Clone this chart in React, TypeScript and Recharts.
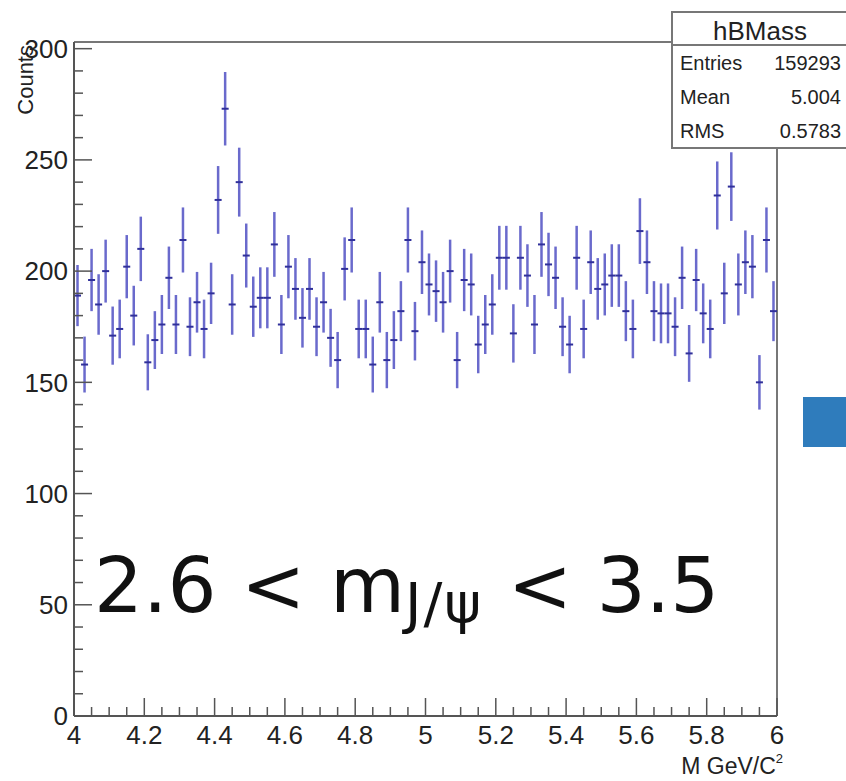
import React from "react";
import { ScatterChart, Scatter, XAxis, YAxis, ErrorBar, ReferenceLine } from "recharts";

// hBMass histogram, 100 bins from 4 to 6 GeV
const binLow = 4;
const binWidth = 0.02;
const counts = [
  189, 158, 196, 185, 200, 171, 174, 202, 180, 210,
  159, 169, 176, 197, 176, 214, 175, 186, 174, 190,
  232, 273, 185, 240, 207, 184, 188, 188, 212, 176,
  202, 192, 179, 192, 175, 186, 170, 160, 201, 214,
  174, 174, 158, 186, 160, 169, 182, 214, 173, 204,
  194, 191, 186, 200, 160, 196, 194, 167, 176, 185,
  206, 206, 172, 206, 198, 176, 212, 203, 197, 175,
  167, 206, 174, 204, 192, 194, 198, 198, 182, 174,
  218, 204, 182, 181, 181, 175, 197, 163, 196, 181,
  174, 234, 190, 238, 194, 204, 202, 150, 214, 182,
];

const yMajorTicks = [0, 50, 100, 150, 200, 250, 300];
const yMinorTicks = [
  10, 20, 30, 40, 60, 70, 80, 90, 110, 120, 130, 140, 160, 170, 180, 190,
  210, 220, 230, 240, 260, 270, 280, 290,
];
const xMajorTicks = [4, 4.2, 4.4, 4.6, 4.8, 5, 5.2, 5.4, 5.6, 5.8, 6];
const xMinorTicks = [
  4.05, 4.1, 4.15, 4.25, 4.3, 4.35, 4.45, 4.5, 4.55, 4.65, 4.7, 4.75,
  4.85, 4.9, 4.95, 5.05, 5.1, 5.15, 5.25, 5.3, 5.35, 5.45, 5.5, 5.55,
  5.65, 5.7, 5.75, 5.85, 5.9, 5.95,
];
const statTitle = "hBMass";
const statLabels = ["Entries", "Mean", "RMS"];
const statValues = ["159293", "5.004", "0.5783"];

const W = 846;
const H = 781;
const YMAX = 303;
const axisColor = "#555";
const font = "'Liberation Sans', Arial, Helvetica, sans-serif";

const points = counts.map((c, i) => ({
  x: +(binLow + (i + 0.5) * binWidth).toFixed(3),
  y: c,
  ey: Math.sqrt(c),
  ex: binWidth / 2,
}));

function YTick(props: any) {
  const { x, y, payload } = props;
  const major = yMajorTicks.includes(payload.value);
  return (
    <g>
      <line x1={x} x2={x + (major ? 18 : 9)} y1={y} y2={y} stroke={axisColor} strokeWidth={1.5} />
      {major && (
        <text x={x - 6} y={y} dy="0.36em" textAnchor="end" fontSize={26} fill="#222" fontFamily={font}>
          {payload.value}
        </text>
      )}
    </g>
  );
}

function XTick(props: any) {
  const { x, y, payload } = props;
  const major = xMajorTicks.includes(payload.value);
  return (
    <g>
      <line x1={x} x2={x} y1={y} y2={y - (major ? 18 : 9)} stroke={axisColor} strokeWidth={1.5} />
      {major && (
        <text x={x} y={y + 28} textAnchor="middle" fontSize={26} fill="#222" fontFamily={font}>
          {payload.value}
        </text>
      )}
    </g>
  );
}

export default function App() {
  return (
    <div style={{ position: "absolute", left: 0, top: 0, width: W, height: H, overflow: "hidden", background: "#fff" }}>
      <ScatterChart width={W} height={H} margin={{ top: 42, right: 69, bottom: 0, left: 0 }}>
        <XAxis
          dataKey="x"
          type="number"
          domain={[4, 6]}
          ticks={[...xMajorTicks, ...xMinorTicks]}
          interval={0}
          tick={<XTick />}
          tickSize={0}
          tickMargin={0}
          height={65}
          axisLine={{ stroke: axisColor, strokeWidth: 2 }}
          tickLine={false}
        />
        <YAxis
          dataKey="y"
          type="number"
          domain={[0, YMAX]}
          ticks={[...yMajorTicks, ...yMinorTicks]}
          interval={0}
          tick={<YTick />}
          tickSize={0}
          tickMargin={0}
          width={74}
          axisLine={{ stroke: axisColor, strokeWidth: 2 }}
          tickLine={false}
          allowDataOverflow
        />
        <ReferenceLine y={YMAX} stroke="#777" strokeWidth={2} />
        <ReferenceLine x={6} stroke="#777" strokeWidth={2} />
        <Scatter data={points} isAnimationActive={false} shape={() => <g />}>
          <ErrorBar dataKey="ey" direction="y" width={0} stroke="#6a6acc" strokeWidth={2.5} />
          <ErrorBar dataKey="ex" direction="x" width={0} stroke="#30309a" strokeWidth={2} />
        </Scatter>
      </ScatterChart>

      <svg width={W} height={H} style={{ position: "absolute", left: 0, top: 0, pointerEvents: "none" }}>
        {/* y axis title */}
        <text transform="translate(33,45) rotate(-90)" textAnchor="end" fontSize={22} fill="#222" fontFamily={font}>
          Counts
        </text>
        {/* x axis title */}
        <text x={783} y={774} textAnchor="end" fontSize={23} fill="#222" fontFamily={font}>
          M GeV/C<tspan fontSize={13} dy={-11}>2</tspan>
        </text>

        {/* stats box */}
        <rect x={672} y={12} width={200} height={136} fill="#fff" stroke="#777" strokeWidth={2} />
        <line x1={672} x2={846} y1={45} y2={45} stroke="#777" strokeWidth={2} />
        <text x={760} y={40} textAnchor="middle" fontSize={26} fill="#222" fontFamily={font}>
          {statTitle}
        </text>
        {statLabels.map((l, i) => (
          <g key={l}>
            <text x={680} y={70 + i * 34} fontSize={20} fill="#222" fontFamily={font}>
              {l}
            </text>
            <text x={841} y={70 + i * 34} textAnchor="end" fontSize={20} fill="#222" fontFamily={font}>
              {statValues[i]}
            </text>
          </g>
        ))}

        {/* overlay annotation */}
        <text x={94} y={612} fontSize={77} fill="#111" fontFamily="'DejaVu Sans', 'Open Sans', sans-serif" style={{ whiteSpace: "pre" }}>
          2.6 &lt; m
          <tspan fontSize={56} dy={10} letterSpacing={2}>J/ψ</tspan>
          <tspan dy={-10}> &lt; 3.5</tspan>
        </text>
        <rect x={803} y={397} width={50} height={50} fill="#2f7cbc" />
      </svg>
    </div>
  );
}
